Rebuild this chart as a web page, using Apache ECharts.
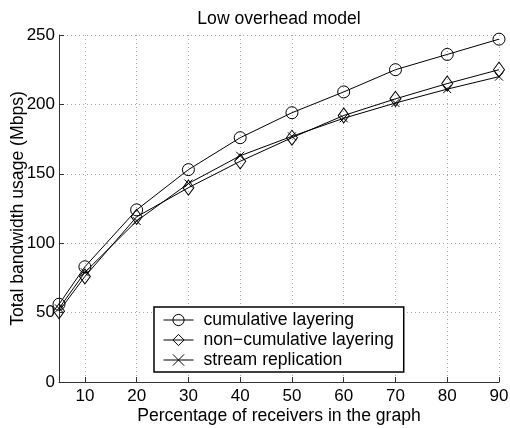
<!DOCTYPE html>
<html>
<head>
<meta charset="utf-8">
<script src="https://cdn.jsdelivr.net/npm/echarts@6/dist/echarts.min.js"></script>
<style>
  html, body { margin: 0; padding: 0; background: #fff; }
  #chart { width: 510px; height: 428px; }
</style>
</head>
<body>
<div id="chart"></div>
<script>
// receivers in the graph (%)
const receivers = [5, 10, 20, 30, 40, 50, 60, 70, 80, 90];
const xTicks = [10, 20, 30, 40, 50, 60, 70, 80, 90];

// total bandwidth usage (Mbps)
const cumulative = [56, 83, 124, 153, 176, 194, 209, 225, 236, 247];
const nonCumulative = [51, 76, 119, 140, 159, 176, 192, 204, 215, 225];
const streamRepl = [53, 79, 116, 143, 163, 177, 190, 201, 211, 220];

const font = "Liberation Sans, Arial, Helvetica, sans-serif";
const pair = arr => receivers.map((x, i) => [x, arr[i]]);

const mkSeries = (name, data, symbol, size) => ({
    name: name,
    type: "line",
    data: pair(data),
    symbol: symbol,
    symbolSize: size,
    lineStyle: { color: "#000", width: 1 },
    itemStyle: { color: "none", borderColor: "#000", borderWidth: 1 },
    emphasis: { disabled: true },
    animation: false
});

const chart = echarts.init(document.getElementById("chart"));
chart.setOption({
    backgroundColor: "#fff",
    textStyle: { fontFamily: font, color: "#000" },
    title: {
        text: "Low overhead model",
        left: 274, top: 5,
        textAlign: "center",
        textStyle: { fontSize: 17.6, fontWeight: "normal", color: "#000", fontFamily: font }
    },
    grid: { left: 59, right: 11, top: 35, bottom: 46, containLabel: false, outerBoundsMode: "none" },
    legend: {
        orient: "vertical",
        left: 154, top: 307,
        padding: [4, 10, 3, 9],
        itemWidth: 30, itemHeight: 14, itemGap: 2,
        borderColor: "#000", borderWidth: 1.5,
        backgroundColor: "#fff",
        lineStyle: { width: 1 },
        itemStyle: { borderWidth: 1 },
        textStyle: { fontSize: 17.6, color: "#000", fontFamily: font, padding: [0, 0, 0, 5] },
        data: ["cumulative layering", "non\u2212cumulative layering", "stream replication"]
    },
    xAxis: {
        type: "value",
        min: 5, max: 90,
        name: "Percentage of receivers in the graph",
        nameLocation: "middle",
        nameGap: 25,
        nameMoveOverlap: false,
        nameTextStyle: { fontSize: 17.6, color: "#000" },
        axisLine: { lineStyle: { color: "#333", width: 1 } },
        axisTick: { inside: true, length: 5, customValues: xTicks, lineStyle: { color: "#333" } },
        axisLabel: { customValues: xTicks, fontSize: 17, color: "#000", margin: 6 },
        splitLine: { show: true, lineStyle: { color: "#aaa", type: [1, 3], width: 1 } }
    },
    yAxis: {
        type: "value",
        min: 0, max: 250, interval: 50,
        name: "Total bandwidth usage (Mbps)",
        nameLocation: "middle",
        nameGap: 32,
        nameMoveOverlap: false,
        nameTextStyle: { fontSize: 17.6, color: "#000" },
        axisLine: { show: true, lineStyle: { color: "#333", width: 1 } },
        axisTick: { show: true, inside: true, length: 5, lineStyle: { color: "#333" } },
        axisLabel: { fontSize: 17, color: "#000", margin: 4 },
        splitLine: { show: true, lineStyle: { color: "#aaa", type: [1, 3], width: 1 } }
    },
    series: [
        mkSeries("cumulative layering", cumulative, "circle", 12),
        mkSeries("non\u2212cumulative layering", nonCumulative, "diamond", [11, 15]),
        mkSeries("stream replication", streamRepl, "path://M0,0L10,10M10,0L0,10", 8)
    ]
});
</script>
</body>
</html>
